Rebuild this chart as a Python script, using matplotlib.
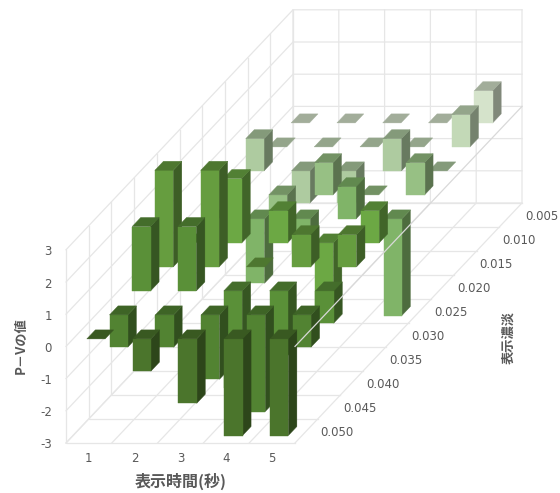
import matplotlib
matplotlib.use('Agg')
import matplotlib.pyplot as plt
from matplotlib.collections import PolyCollection
from matplotlib.colors import to_rgb

durations = ['1', '2', '3', '4', '5']
concentrations = ['0.005', '0.010', '0.015', '0.020', '0.025',
                  '0.030', '0.035', '0.040', '0.045', '0.050']
z_ticks = [-3, -2, -1, 0, 1, 2, 3]

# P-V value per display time, one row per concentration, back to front
row_005 = [0, 0, 0, 0, 1]
row_010 = [0, 0, 0, 0, 1]
row_015 = [1, -1, -1, 1, 0]
row_020 = [0, -1, 1, 0, 1]
row_025 = [0, -2, -1, 1, -3]
row_030 = [0, 2, 1, -2, 1]
row_035 = [3, 3, 0, 1, 1]
row_040 = [2, 2, -3, -2, -1]
row_045 = [-1, -1, -2, -3, -1]
row_050 = [0, -1, -2, -3, -3]
rows = [row_005, row_010, row_015, row_020, row_025,
        row_030, row_035, row_040, row_045, row_050]

row_colors = ['#d5e3cb', '#c3d9b7', '#aecba0', '#97c084', '#80b468',
              '#6ca844', '#669d3f', '#5a9038', '#528332', '#4b752c']

# oblique projection, in pixels
X0, Y0 = 66.0, 443.0
DX = 45.8
DEPTH_X, DEPTH_Y = 22.7, -24.0
DZ = -32.2
BAR_W = 0.4
BAR_D = 0.375
TOP_SHADE = 0.76
SIDE_SHADE = 0.6
GRID = '#e6e6e6'
TEXT = '#595959'
CJK = ['Noto Sans CJK JP', 'DejaVu Sans']

ncat = len(durations)
nrow = len(concentrations)


def proj(x, d, z):
    # x in categories from the left, d in rows from the front, z in value units
    return (X0 + DX*x + DEPTH_X*d, Y0 + DEPTH_Y*d + DZ*(z - z_ticks[0]))


def shade(col, f):
    return tuple(c*f for c in to_rgb(col))


fig = plt.figure(figsize=(5.6, 4.93), dpi=100)
ax = fig.add_axes([0, 0, 1, 1])
ax.set_xlim(0, 560)
ax.set_ylim(493, 0)
ax.axis('off')

zmin, zmax = z_ticks[0], z_ticks[-1]

# walls and floor
grid_segs = []
for z in z_ticks:
    grid_segs.append([proj(0, 0, z), proj(0, nrow, z), proj(ncat, nrow, z)])
for d in range(nrow + 1):
    grid_segs.append([proj(0, d, zmax), proj(0, d, zmin), proj(ncat, d, zmin)])
for x in range(ncat + 1):
    grid_segs.append([proj(x, 0, zmin), proj(x, nrow, zmin), proj(x, nrow, zmax)])
for seg in grid_segs:
    xs, ys = zip(*seg)
    ax.plot(xs, ys, color=GRID, lw=0.9, zorder=1, solid_joinstyle='miter')

# columns, painted from the back row forward
polys, faces = [], []
for i, vals in enumerate(rows):
    d0 = nrow - 1 - i + 0.5 - BAR_D/2
    d1 = d0 + BAR_D
    col = row_colors[i]
    for k, v in enumerate(vals):
        x0 = k + 0.5 - BAR_W/2
        x1 = x0 + BAR_W
        lo, hi = min(v, 0), max(v, 0)
        if v != 0:
            polys.append([proj(x1, d0, lo), proj(x1, d1, lo), proj(x1, d1, hi), proj(x1, d0, hi)])
            faces.append(shade(col, SIDE_SHADE))
            polys.append([proj(x0, d0, lo), proj(x1, d0, lo), proj(x1, d0, hi), proj(x0, d0, hi)])
            faces.append(to_rgb(col))
        polys.append([proj(x0, d0, hi), proj(x1, d0, hi), proj(x1, d1, hi), proj(x0, d1, hi)])
        faces.append(shade(col, TOP_SHADE))
pc = PolyCollection(polys, facecolors=faces, edgecolors=faces, linewidths=0.3, zorder=2)
ax.add_collection(pc)

# zero line along the right of the floor runs over the columns
xs, ys = zip(proj(ncat, 0, 0), proj(ncat, nrow, 0))
ax.plot(xs, ys, color='#d9d9d9', lw=0.9, zorder=3)

# tick labels
for z in z_ticks:
    ax.text(52, proj(0, 0, z)[1] + 2, str(z), color=TEXT, fontsize=8.5,
            ha='right', va='center')
for k, lab in enumerate(durations):
    ax.text(proj(k + 0.5, 0, zmin)[0], 459, lab, color=TEXT, fontsize=8.5,
            ha='center', va='center')
for i, lab in enumerate(concentrations):
    px, py = proj(ncat, nrow - 1 - i + 0.5, zmin)
    ax.text(px + 31, py + 2, lab, color=TEXT, fontsize=8.5, ha='center', va='center')

# axis titles
ax.text(181, 481, '表示時間(秒)', color=TEXT, fontsize=11.5, fontweight='bold',
        family=CJK, ha='center', va='center')
ax.text(21, 346, 'P－Vの値', color=TEXT, fontsize=9.5, fontweight='bold',
        family=CJK, rotation=90, ha='center', va='center')
ax.text(508, 337, '表示濃淡', color=TEXT, fontsize=9.5, fontweight='bold',
        family=CJK, rotation=90, ha='center', va='center')

fig.savefig('out.png', dpi=100)
